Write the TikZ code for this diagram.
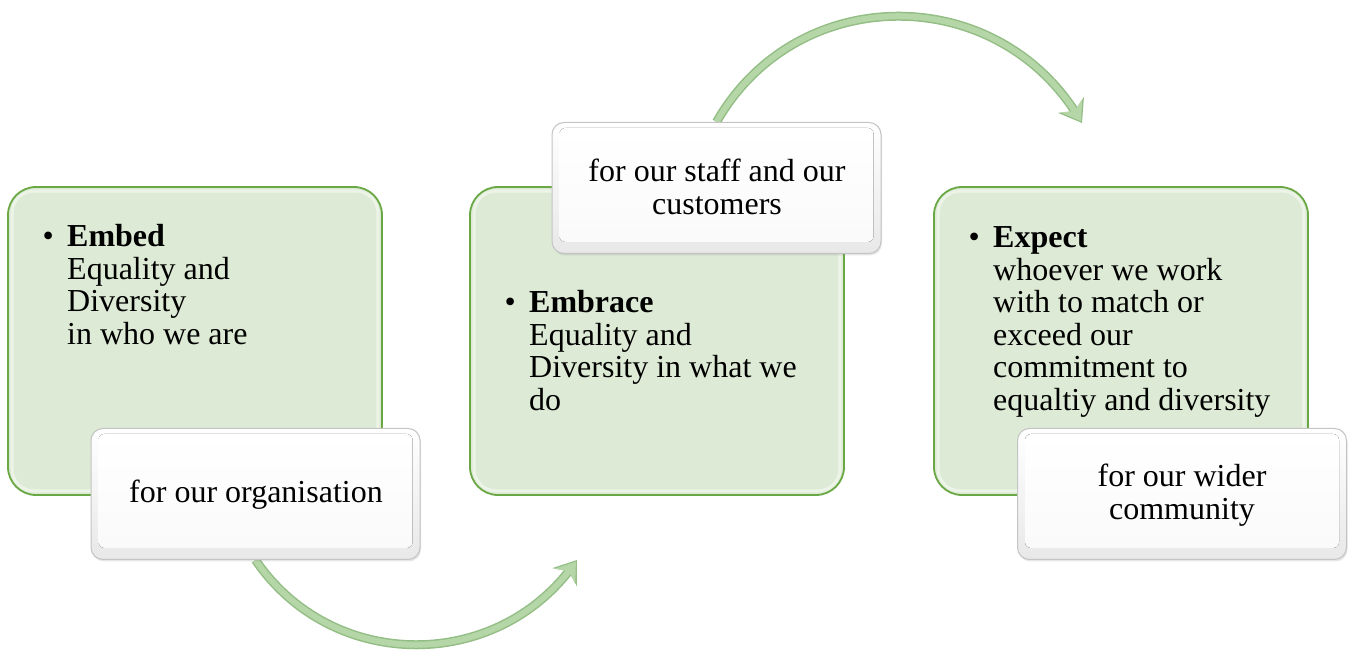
\documentclass[tikz,border=0pt]{standalone}
\usepackage{fontspec}
\setmainfont{Liberation Serif}
\usetikzlibrary{arrows.meta,bending,calc,shadows}
\definecolor{gfill}{HTML}{DDEAD5}
\definecolor{gedge}{HTML}{6AA846}
\definecolor{afill}{HTML}{B5D6A7}
\definecolor{aedge}{HTML}{94BE86}
\definecolor{wedge}{HTML}{C4C4C4}
\pgfdeclarelayer{bg}
\pgfsetlayers{bg,main}
\tikzset{
 gbox/.style={draw=gedge, line width=1.8pt, fill=gfill, rounded corners=28pt, minimum width=374pt, minimum height=308pt, inner sep=0pt},
 wbox/.style={draw=wedge, line width=1pt, top color=white, bottom color=black!9, rounded corners=12pt, minimum width=329pt, minimum height=131pt, inner sep=0pt, drop shadow={shadow xshift=1pt, shadow yshift=-2pt, opacity=0.2}},
 txt/.style={inner sep=0pt, font=\fontsize{32}{32.5}\selectfont},
 arrowout/.style={line width=9pt, aedge, -{Stealth[length=21pt,width=30pt,inset=7pt]}},
 arrowin/.style={line width=6pt, afill, shorten >=2pt, -{Stealth[length=18pt,width=25pt,inset=6pt]}},
 glow/.style={white, opacity=0.45, line width=3pt, rounded corners=22pt},
 bevel/.style={top color=white, bottom color=black!2, rounded corners=6pt},
}
\begin{document}
\begin{tikzpicture}[x=1pt,y=1pt]
\useasboundingbox (0,0) rectangle (1352,653);
% green boxes
\node[gbox] (g1) at (195,312) {};
\node[gbox] (g2) at (657,312) {};
\node[gbox] (g3) at (1121,312) {};
\foreach \n in {g1,g2,g3}
  \draw[glow] ($(\n.south west)+(5,5)$) rectangle ($(\n.north east)+(-5,-5)$);
% white boxes
\node[wbox] (w1) at (255.5,159) {};
\node[wbox] (w2) at (716.5,465) {};
\node[wbox] (w3) at (1182,159) {};
\foreach \n in {w1,w2,w3}
  \fill[bevel] ($(\n.south west)+(8,12)$) rectangle ($(\n.north east)+(-8,-6)$);
% arrows
\coordinate (e1) at (577,93);
\coordinate (e2) at (1082,530);
\begin{pgfonlayer}{bg}
\draw[arrowout] (w1.south) to[out=-55.8, in=-124.2, looseness=1.09] (e1);
\draw[arrowin] (w1.south) to[out=-55.8, in=-124.2, looseness=1.09] (e1);
\draw[arrowout] (w2.north) to[out=60.3, in=119.7, looseness=1.14] (e2);
\draw[arrowin] (w2.north) to[out=60.3, in=119.7, looseness=1.14] (e2);
\end{pgfonlayer}
% texts
\node[txt, anchor=base west] (t1) at (42.5,406) {\begin{tabular}[t]{@{}l@{}l@{}}\makebox[24.5pt][l]{\textbullet}&\textbf{Embed}\\&Equality and\\&Diversity\\&in who we are\end{tabular}};
\node[txt, anchor=base west] (t2) at (504.5,340) {\begin{tabular}[t]{@{}l@{}l@{}}\makebox[24.5pt][l]{\textbullet}&\textbf{Embrace}\\&Equality and\\&Diversity in what we\\&do\end{tabular}};
\node[txt, anchor=base west] (t3) at (968.5,405) {\begin{tabular}[t]{@{}l@{}l@{}}\makebox[24.5pt][l]{\textbullet}&\textbf{Expect}\\&whoever we work\\&with to match or\\&exceed our\\&commitment to\\&equaltiy and diversity\end{tabular}};
\node[txt, anchor=base] (u1) at (256,150) {for our organisation};
\node[txt, anchor=base] (u2) at (717,471) {\begin{tabular}[t]{@{}c@{}}for our staff and our\\customers\end{tabular}};
\node[txt, anchor=base] (u3) at (1182,166) {\begin{tabular}[t]{@{}c@{}}for our wider\\community\end{tabular}};
\end{tikzpicture}
\end{document}
